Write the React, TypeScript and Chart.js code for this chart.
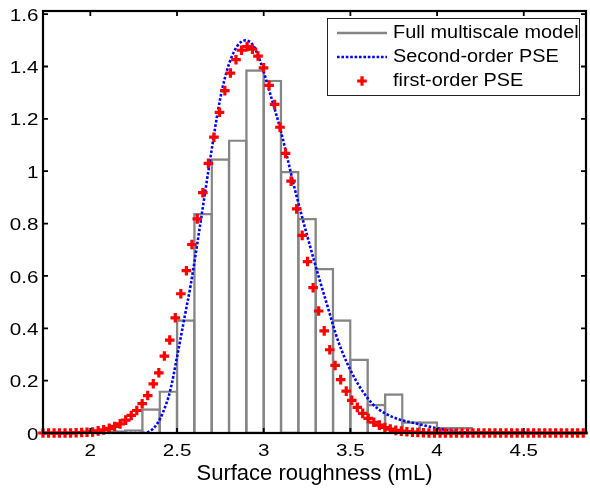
import { useEffect, useRef } from "react";
import { Chart, registerables } from "chart.js";

Chart.register(...registerables);

// Histogram (Full multiscale model): bin centres and heights (bin width 0.1)
const binCenters = [2.05, 2.15, 2.25, 2.35, 2.45, 2.55, 2.65, 2.75, 2.85, 2.95, 3.05, 3.15, 3.25, 3.35, 3.45, 3.55, 3.65, 3.75, 3.85, 3.95, 4.05, 4.15, 4.25, 4.35, 4.45];
const binHeights = [0, 0.006, 0.01, 0.09, 0.158, 0.43, 0.836, 1.045, 1.117, 1.385, 1.345, 0.997, 0.817, 0.626, 0.43, 0.28, 0.107, 0.147, 0.04, 0.04, 0.018, 0.018, 0.004, 0.003, 0.003];

// Second-order PSE curve
const secondX = [2.15, 2.3, 2.33, 2.36, 2.39, 2.42, 2.46, 2.5, 2.54, 2.58, 2.63, 2.69, 2.75, 2.8, 2.85, 2.895, 2.94, 2.98, 3.04, 3.1, 3.18, 3.29, 3.37, 3.43, 3.52, 3.625, 3.7, 3.79, 3.84, 3.92, 4.0, 4.11, 4.2];
const secondY = [0, 0, 0.003, 0.015, 0.04, 0.08, 0.16, 0.29, 0.43, 0.57, 0.78, 1.04, 1.28, 1.41, 1.48, 1.5, 1.48, 1.42, 1.29, 1.15, 0.93, 0.66, 0.48, 0.35, 0.215, 0.113, 0.075, 0.05, 0.042, 0.03, 0.018, 0.005, 0];

// First-order PSE points
const firstX = [1.727, 1.759, 1.791, 1.822, 1.854, 1.886, 1.918, 1.95, 1.981, 2.013, 2.045, 2.077, 2.109, 2.14, 2.172, 2.204, 2.236, 2.268, 2.299, 2.331, 2.363, 2.395, 2.427, 2.458, 2.49, 2.522, 2.554, 2.586, 2.617, 2.649, 2.681, 2.713, 2.745, 2.776, 2.808, 2.84, 2.872, 2.904, 2.935, 2.967, 2.999, 3.031, 3.063, 3.094, 3.126, 3.158, 3.19, 3.222, 3.253, 3.285, 3.317, 3.349, 3.381, 3.412, 3.444, 3.476, 3.508, 3.54, 3.571, 3.603, 3.635, 3.667, 3.699, 3.73, 3.762, 3.794, 3.826, 3.858, 3.889, 3.921, 3.953, 3.985, 4.017, 4.048, 4.08, 4.112, 4.144, 4.176, 4.207, 4.239, 4.271, 4.303, 4.334, 4.366, 4.398, 4.43, 4.462, 4.493, 4.525, 4.557, 4.589, 4.621, 4.652, 4.684, 4.716, 4.748, 4.78, 4.811, 4.843];
const firstY = [0, 0, 0, 0, 0, 0, 0.001, 0.002, 0.003, 0.004, 0.008, 0.012, 0.018, 0.025, 0.035, 0.049, 0.067, 0.086, 0.112, 0.143, 0.188, 0.23, 0.294, 0.355, 0.44, 0.532, 0.62, 0.72, 0.818, 0.918, 1.03, 1.13, 1.225, 1.308, 1.375, 1.426, 1.462, 1.476, 1.466, 1.44, 1.395, 1.328, 1.255, 1.168, 1.068, 0.962, 0.856, 0.755, 0.655, 0.555, 0.466, 0.39, 0.318, 0.258, 0.204, 0.16, 0.125, 0.098, 0.075, 0.056, 0.041, 0.03, 0.021, 0.015, 0.01, 0.007, 0.005, 0.003, 0.002, 0.001, 0, 0, 0, 0, 0, 0, 0, 0, 0, 0, 0, 0, 0, 0, 0, 0, 0, 0, 0, 0, 0, 0, 0, 0, 0, 0, 0, 0, 0];

const seriesLabels = ["Full multiscale model", "Second-order PSE", "first-order PSE"];
const xTitle = "Surface roughness (mL)";
const xMin = 1.727;
const xMax = 4.859;
const yMin = 0;
const yMax = 1.612;
const xStep = 0.5;
const yStep = 0.2;

const FONT = "'Liberation Sans', Arial, Helvetica, sans-serif";

const fmt = (v: number) => String(Math.round(v * 10) / 10);

const boxPlugin = {
  id: "boxAndTicks",
  afterDraw(chart: any) {
    const { ctx, chartArea: a, scales } = chart;
    ctx.save();
    ctx.strokeStyle = "#000";
    ctx.lineWidth = 1.8;
    const tl = 5;
    ctx.beginPath();
    for (const t of scales.x.ticks) {
      const px = scales.x.getPixelForValue(t.value);
      ctx.moveTo(px, a.bottom);
      ctx.lineTo(px, a.bottom - tl);
      ctx.moveTo(px, a.top);
      ctx.lineTo(px, a.top + tl);
    }
    for (const t of scales.y.ticks) {
      const py = scales.y.getPixelForValue(t.value);
      ctx.moveTo(a.left, py);
      ctx.lineTo(a.left + tl, py);
      ctx.moveTo(a.right, py);
      ctx.lineTo(a.right - tl, py);
    }
    ctx.stroke();
    ctx.lineWidth = 2.2;
    ctx.strokeRect(a.left, a.top, a.right - a.left, a.bottom - a.top);

    // tick labels
    ctx.fillStyle = "#000";
    ctx.font = `16.5px ${FONT}`;
    ctx.textBaseline = "alphabetic";
    const sx = 1.25;
    for (const t of scales.x.ticks) {
      const px = scales.x.getPixelForValue(t.value);
      ctx.save();
      ctx.translate(px, a.bottom + 23);
      ctx.scale(sx, 1);
      ctx.textAlign = "center";
      ctx.fillText(fmt(t.value), 0, 0);
      ctx.restore();
    }
    for (const t of scales.y.ticks) {
      const py = scales.y.getPixelForValue(t.value);
      ctx.save();
      ctx.translate(a.left - 4.5, py + 6.6);
      ctx.scale(sx, 1);
      ctx.textAlign = "right";
      ctx.fillText(fmt(t.value), 0, 0);
      ctx.restore();
    }
    ctx.restore();
  },
};

const legendPlugin = {
  id: "insideLegend",
  afterDraw(chart: any) {
    const { ctx, chartArea: a } = chart;
    const ds = chart.data.datasets;
    const w = 253;
    const h = 78;
    const right = a.right - 6;
    const left = right - w;
    const top = a.top + 7;
    ctx.save();
    ctx.fillStyle = "#fff";
    ctx.fillRect(left, top, w, h);
    ctx.strokeStyle = "#222";
    ctx.lineWidth = 1;
    ctx.strokeRect(left + 0.5, top + 0.5, w - 1, h - 1);
    ctx.font = `17.6px ${FONT}`;
    ctx.textBaseline = "middle";
    ctx.textAlign = "left";
    const rowY = [top + 15, top + 39, top + 63];
    const sx0 = left + 10;
    const sx1 = left + 60;
    ds.forEach((d: any, i: number) => {
      const y = rowY[i];
      if (i === 0) {
        ctx.strokeStyle = d.borderColor;
        ctx.lineWidth = 2.3;
        ctx.setLineDash([]);
        ctx.beginPath();
        ctx.moveTo(sx0, y);
        ctx.lineTo(sx1, y);
        ctx.stroke();
      } else if (i === 1) {
        ctx.strokeStyle = d.borderColor;
        ctx.lineWidth = d.borderWidth;
        ctx.setLineDash(d.borderDash);
        ctx.beginPath();
        ctx.moveTo(sx0, y);
        ctx.lineTo(sx1, y);
        ctx.stroke();
        ctx.setLineDash([]);
      } else {
        const cx = (sx0 + sx1) / 2;
        const r = d.pointRadius;
        ctx.strokeStyle = d.pointBorderColor;
        ctx.lineWidth = d.pointBorderWidth;
        ctx.beginPath();
        ctx.moveTo(cx - r, y);
        ctx.lineTo(cx + r, y);
        ctx.moveTo(cx, y - r);
        ctx.lineTo(cx, y + r);
        ctx.stroke();
      }
      ctx.fillStyle = "#000";
      ctx.save();
      ctx.translate(left + 66, y);
      ctx.scale(1.13, 1);
      ctx.fillText(d.label, 0, 0);
      ctx.restore();
    });
    ctx.restore();
  },
};

export default function App() {
  const canvasRef = useRef<HTMLCanvasElement | null>(null);

  useEffect(() => {
    const canvas = canvasRef.current;
    if (!canvas) return;
    Chart.defaults.font.family = FONT;
    const chart = new Chart(canvas, {
      type: "bar",
      data: {
        datasets: [
          {
            type: "bar",
            label: seriesLabels[0],
            data: binCenters.map((x, i) => ({ x, y: binHeights[i] })),
            backgroundColor: "rgba(255,255,255,0)",
            borderColor: "#858585",
            borderWidth: 0.02,
            inflateAmount: 1.2,
            categoryPercentage: 1,
            barPercentage: 1,
            order: 3,
          } as any,
          {
            type: "line",
            label: seriesLabels[1],
            data: secondX.map((x, i) => ({ x, y: secondY[i] })),
            borderColor: "#0000ff",
            borderWidth: 2.6,
            borderDash: [2.6, 1.8],
            pointRadius: 0,
            fill: false,
            cubicInterpolationMode: "monotone",
            order: 2,
          } as any,
          {
            type: "line",
            label: seriesLabels[2],
            data: firstX.map((x, i) => ({ x, y: firstY[i] })),
            showLine: false,
            pointStyle: "cross",
            pointRadius: 4.8,
            pointBorderWidth: 3.2,
            pointBorderColor: "#ff0000",
            pointBackgroundColor: "#ff0000",
            borderColor: "#ff0000",
            clip: false,
            order: 1,
          } as any,
        ],
      },
      options: {
        responsive: false,
        animation: false,
        devicePixelRatio: 1,
        layout: { padding: { left: 0, top: 11, right: 3, bottom: 0 } },
        plugins: {
          legend: { display: false },
          tooltip: { enabled: false },
        },
        scales: {
          x: {
            type: "linear",
            min: xMin,
            max: xMax,
            offset: false,
            grid: { display: false, drawTicks: false },
            border: { display: false },
            ticks: { stepSize: xStep, includeBounds: false, display: false },
            title: {
              display: true,
              text: xTitle,
              color: "#000",
              font: { size: 22, family: FONT },
              padding: { top: 0, bottom: 2 },
            },
            afterFit: (s: any) => {
              s.height = 56;
            },
          },
          y: {
            type: "linear",
            min: yMin,
            max: yMax,
            grid: { display: false, drawTicks: false },
            border: { display: false },
            ticks: { stepSize: yStep, includeBounds: false, display: false },
            afterFit: (s: any) => {
              s.width = 43;
            },
          },
        },
      } as any,
      plugins: [boxPlugin, legendPlugin],
    });
    return () => chart.destroy();
  }, []);

  return (
    <div
      style={{
        position: "absolute",
        left: 0,
        top: 0,
        width: 590,
        height: 489,
        overflow: "hidden",
        background: "#fff",
      }}
    >
      <canvas ref={canvasRef} width={594} height={489} style={{ display: "block" }} />
    </div>
  );
}
